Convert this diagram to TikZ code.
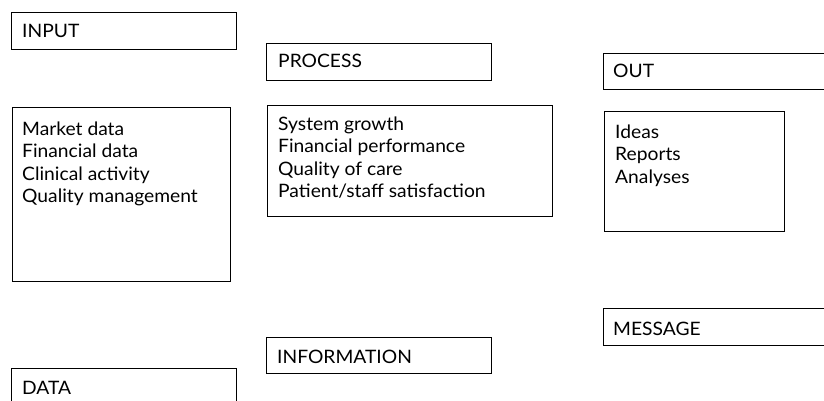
\documentclass[tikz,border=0pt]{standalone}
\usepackage{fontspec}
\setmainfont[FakeStretch=1.04]{Lato}
\begin{document}
\begin{tikzpicture}[x=1pt,y=-1pt,
  frame/.style={draw=black, line width=1.4pt, fill=white, inner sep=0pt, anchor=north west},
  caption/.style={anchor=base west, inner sep=0pt, font=\fontsize{18.5}{22.5}\selectfont},
  listing/.style={anchor=base west, inner sep=0pt, align=left, font=\fontsize{18.5}{22.5}\selectfont}]
\useasboundingbox (0,0) rectangle (824,401);
\clip (0,0) rectangle (824,401);
% column 1: sources
\node[frame, minimum width=225pt, minimum height=37pt] (inputbox) at (11,12) {};
\node[caption] (inputlbl) at (22,38) {INPUT};
\node[frame, minimum width=218pt, minimum height=174pt] (databox) at (12,107) {};
% a multi-line node sits on the baseline of its last line
\node[listing] (datalist) at (22,202.5) {Market data\\Financial data\\Clinical activity\\Quality management};
\node[frame, minimum width=225pt, minimum height=45pt] (databottom) at (11,368) {};
\node[caption] (datalbl) at (22,394) {DATA};
% column 2: processing
\node[frame, minimum width=225pt, minimum height=37pt] (processbox) at (266,43) {};
\node[caption] (processlbl) at (278,68) {PROCESS};
\node[frame, minimum width=285pt, minimum height=111pt] (metricbox) at (267,105) {};
\node[listing] (metriclist) at (278,197.5) {System growth\\Financial performance\\Quality of care\\Patient/staff satisfaction};
\node[frame, minimum width=225pt, minimum height=36pt] (infobox) at (266,337) {};
\node[caption] (infolbl) at (277,363) {INFORMATION};
% column 3: results
\node[frame, minimum width=240pt, minimum height=36pt] (outbox) at (603,53) {};
\node[caption] (outlbl) at (613,78) {OUT};
\node[frame, minimum width=180pt, minimum height=120pt] (resultbox) at (604,111) {};
\node[listing] (resultlist) at (615,183) {Ideas\\Reports\\Analyses};
\node[frame, minimum width=240pt, minimum height=37pt] (messagebox) at (603,308) {};
\node[caption] (messagelbl) at (613,335) {MESSAGE};
\end{tikzpicture}
\end{document}
